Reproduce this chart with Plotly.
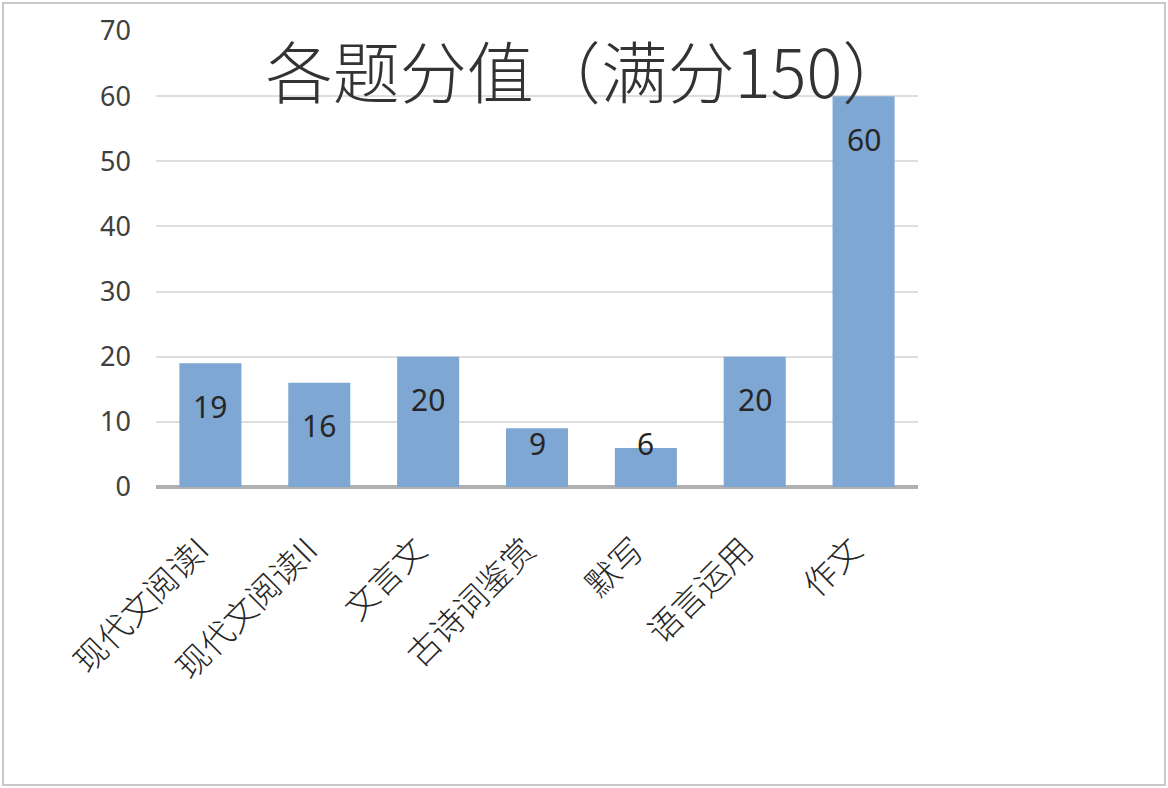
import plotly.graph_objects as go

# 各题分值
categories = ["现代文阅读I", "现代文阅读II", "文言文", "古诗词鉴赏", "默写", "语言运用", "作文"]
scores = [19, 16, 20, 9, 6, 20, 60]
y_ticks = [0, 10, 20, 30, 40, 50, 60, 70]

BAR_COLOR = "#7fa7d3"
TEXT_COLOR = "#262626"

fig = go.Figure()
fig.add_trace(go.Bar(
    x=categories,
    y=scores,
    marker=dict(color=BAR_COLOR, line=dict(width=0)),
    hoverinfo="x+y",
))

# value labels sit a little below the bar top, but never sink below the axis
for cat, v in zip(categories, scores):
    fig.add_annotation(
        x=cat, y=max(v - 6.6, 6.7), text=str(v), showarrow=False,
        font=dict(family="Noto Sans", size=30, color=TEXT_COLOR),
        yanchor="middle",
    )

# grey frame round the whole picture
fig.add_shape(
    type="rect", xref="paper", yref="paper",
    x0=-0.2008, x1=1.3241, y0=-0.6535, y1=1.0614,
    line=dict(color="#c8c8c8", width=2), fillcolor="rgba(0,0,0,0)",
    layer="below",
)

fig.update_layout(
    width=1168,
    height=788,
    paper_bgcolor="white",
    plot_bgcolor="white",
    margin=dict(l=156, r=250, t=31, b=301),
    bargap=0.43,
    showlegend=False,
    title=dict(
        text="各题分值（满分150）",
        x=0.503, xanchor="center",
        y=0.905, yanchor="middle",
        font=dict(family="Noto Sans CJK SC", size=67, color="#333333", weight=300),
    ),
    xaxis=dict(
        tickangle=-45,
        tickfont=dict(family="Noto Sans CJK SC", size=33, color=TEXT_COLOR, weight=300),
        ticks="",
        ticklabelstandoff=36,
        ticklabelshift=-11,
        showline=False,
        showgrid=False,
        zeroline=False,
    ),
    yaxis=dict(
        range=[0, 70],
        tickvals=y_ticks,
        tickfont=dict(family="Noto Sans", size=27, color="#404040"),
        ticklabelstandoff=24,
        showgrid=True,
        gridcolor="#dedede",
        gridwidth=1.5,
        zeroline=True,
        zerolinecolor="#b0b0b0",
        zerolinewidth=4,
        showline=False,
        ticks="",
    ),
)

fig.write_html(
    "out.html",
    config={"displayModeBar": False},
    post_script="document.body.style.margin='0';",
)
